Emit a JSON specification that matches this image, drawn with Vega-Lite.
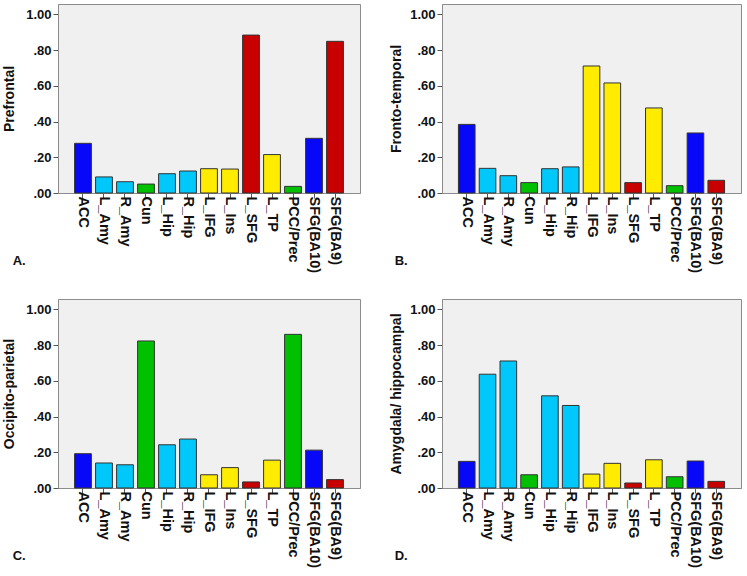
{
  "$schema": "https://vega.github.io/schema/vega-lite/v6.json",
  "background": "white",
  "padding": {"left": 2, "top": 3, "right": 5, "bottom": 0},
  "config": {
    "font": "Liberation Sans",
    "view": {"fill": "#f0f0f0", "stroke": "#8c8c8c", "strokeWidth": 1},
    "axis": {
      "grid": false,
      "domainColor": "#8c8c8c",
      "tickColor": "#555555",
      "tickSize": 5,
      "labelFont": "Liberation Sans",
      "labelFontWeight": "bold",
      "labelColor": "#111111",
      "titleFont": "Liberation Sans",
      "titleFontWeight": "bold",
      "titleFontSize": 14,
      "titleColor": "#111111"
    },
    "axisX": {"labelFontSize": 14.5, "labelPadding": -2},
    "title": {"font": "Liberation Sans", "fontSize": 13, "fontWeight": "bold", "color": "#111111"}
  },
  "spacing": 24,
  "data": {
    "values": [
      {"network": "Prefrontal", "region": "ACC", "group": "anterior", "value": 0.278},
      {"network": "Prefrontal", "region": "L_Amy", "group": "limbic", "value": 0.090},
      {"network": "Prefrontal", "region": "R_Amy", "group": "limbic", "value": 0.063},
      {"network": "Prefrontal", "region": "Cun", "group": "posterior", "value": 0.050},
      {"network": "Prefrontal", "region": "L_Hip", "group": "limbic", "value": 0.108},
      {"network": "Prefrontal", "region": "R_Hip", "group": "limbic", "value": 0.123},
      {"network": "Prefrontal", "region": "L_IFG", "group": "temporal", "value": 0.136},
      {"network": "Prefrontal", "region": "L_Ins", "group": "temporal", "value": 0.134},
      {"network": "Prefrontal", "region": "L_SFG", "group": "frontal", "value": 0.884},
      {"network": "Prefrontal", "region": "L_TP", "group": "temporal", "value": 0.215},
      {"network": "Prefrontal", "region": "PCC/Prec", "group": "posterior", "value": 0.037},
      {"network": "Prefrontal", "region": "SFG(BA10)", "group": "anterior", "value": 0.306},
      {"network": "Prefrontal", "region": "SFG(BA9)", "group": "frontal", "value": 0.849},

      {"network": "Fronto-temporal", "region": "ACC", "group": "anterior", "value": 0.384},
      {"network": "Fronto-temporal", "region": "L_Amy", "group": "limbic", "value": 0.138},
      {"network": "Fronto-temporal", "region": "R_Amy", "group": "limbic", "value": 0.097},
      {"network": "Fronto-temporal", "region": "Cun", "group": "posterior", "value": 0.058},
      {"network": "Fronto-temporal", "region": "L_Hip", "group": "limbic", "value": 0.136},
      {"network": "Fronto-temporal", "region": "R_Hip", "group": "limbic", "value": 0.146},
      {"network": "Fronto-temporal", "region": "L_IFG", "group": "temporal", "value": 0.711},
      {"network": "Fronto-temporal", "region": "L_Ins", "group": "temporal", "value": 0.616},
      {"network": "Fronto-temporal", "region": "L_SFG", "group": "frontal", "value": 0.058},
      {"network": "Fronto-temporal", "region": "L_TP", "group": "temporal", "value": 0.476},
      {"network": "Fronto-temporal", "region": "PCC/Prec", "group": "posterior", "value": 0.041},
      {"network": "Fronto-temporal", "region": "SFG(BA10)", "group": "anterior", "value": 0.336},
      {"network": "Fronto-temporal", "region": "SFG(BA9)", "group": "frontal", "value": 0.071},

      {"network": "Occipito-parietal", "region": "ACC", "group": "anterior", "value": 0.192},
      {"network": "Occipito-parietal", "region": "L_Amy", "group": "limbic", "value": 0.140},
      {"network": "Occipito-parietal", "region": "R_Amy", "group": "limbic", "value": 0.130},
      {"network": "Occipito-parietal", "region": "Cun", "group": "posterior", "value": 0.823},
      {"network": "Occipito-parietal", "region": "L_Hip", "group": "limbic", "value": 0.242},
      {"network": "Occipito-parietal", "region": "R_Hip", "group": "limbic", "value": 0.274},
      {"network": "Occipito-parietal", "region": "L_IFG", "group": "temporal", "value": 0.074},
      {"network": "Occipito-parietal", "region": "L_Ins", "group": "temporal", "value": 0.114},
      {"network": "Occipito-parietal", "region": "L_SFG", "group": "frontal", "value": 0.034},
      {"network": "Occipito-parietal", "region": "L_TP", "group": "temporal", "value": 0.156},
      {"network": "Occipito-parietal", "region": "PCC/Prec", "group": "posterior", "value": 0.860},
      {"network": "Occipito-parietal", "region": "SFG(BA10)", "group": "anterior", "value": 0.212},
      {"network": "Occipito-parietal", "region": "SFG(BA9)", "group": "frontal", "value": 0.047},

      {"network": "Amygdala/ hippocampal", "region": "ACC", "group": "anterior", "value": 0.149},
      {"network": "Amygdala/ hippocampal", "region": "L_Amy", "group": "limbic", "value": 0.637},
      {"network": "Amygdala/ hippocampal", "region": "R_Amy", "group": "limbic", "value": 0.711},
      {"network": "Amygdala/ hippocampal", "region": "Cun", "group": "posterior", "value": 0.074},
      {"network": "Amygdala/ hippocampal", "region": "L_Hip", "group": "limbic", "value": 0.516},
      {"network": "Amygdala/ hippocampal", "region": "R_Hip", "group": "limbic", "value": 0.462},
      {"network": "Amygdala/ hippocampal", "region": "L_IFG", "group": "temporal", "value": 0.078},
      {"network": "Amygdala/ hippocampal", "region": "L_Ins", "group": "temporal", "value": 0.138},
      {"network": "Amygdala/ hippocampal", "region": "L_SFG", "group": "frontal", "value": 0.028},
      {"network": "Amygdala/ hippocampal", "region": "L_TP", "group": "temporal", "value": 0.158},
      {"network": "Amygdala/ hippocampal", "region": "PCC/Prec", "group": "posterior", "value": 0.063},
      {"network": "Amygdala/ hippocampal", "region": "SFG(BA10)", "group": "anterior", "value": 0.151},
      {"network": "Amygdala/ hippocampal", "region": "SFG(BA9)", "group": "frontal", "value": 0.037}
    ]
  },
  "vconcat": [
    {
      "spacing": 28,
      "hconcat": [
        {
          "width": 302, "height": 189,
          "title": {"text": "A.", "orient": "bottom", "anchor": "start", "frame": "bounds", "dx": 10, "dy": -22},
          "transform": [{"filter": "datum.network === 'Prefrontal'"}],
          "mark": {"type": "bar", "stroke": "#333333", "strokeWidth": 1},
          "encoding": {
            "x": {"field": "region", "type": "nominal", "sort": null,
                  "scale": {"paddingInner": 0.2, "paddingOuter": 0.79},
                  "axis": {"title": null, "labelAngle": 90}},
            "y": {"field": "value", "type": "quantitative",
                  "scale": {"domain": [0, 1.058], "nice": false},
                  "axis": {"title": "Prefrontal", "values": [0, 0.2, 0.4, 0.6, 0.8, 1.0], "labelFontSize": 13, "labelPadding": 2, "titlePadding": 9,
                           "labelExpr": "datum.value < 1 ? substring(format(datum.value, '.2f'), 1) : format(datum.value, '.2f')"}},
            "color": {"field": "group", "type": "nominal", "legend": null,
                      "scale": {"domain": ["anterior", "limbic", "posterior", "temporal", "frontal"],
                                "range": ["#0808f8", "#00c8fa", "#00c000", "#ffec00", "#c80000"]}}
          }
        },
        {
          "width": 299, "height": 189,
          "title": {"text": "B.", "orient": "bottom", "anchor": "start", "frame": "bounds", "dx": 5, "dy": -22},
          "transform": [{"filter": "datum.network === 'Fronto-temporal'"}],
          "mark": {"type": "bar", "stroke": "#333333", "strokeWidth": 1},
          "encoding": {
            "x": {"field": "region", "type": "nominal", "sort": null,
                  "scale": {"paddingInner": 0.2, "paddingOuter": 0.79},
                  "axis": {"title": null, "labelAngle": 90}},
            "y": {"field": "value", "type": "quantitative",
                  "scale": {"domain": [0, 1.058], "nice": false},
                  "axis": {"title": "Fronto-temporal", "values": [0, 0.2, 0.4, 0.6, 0.8, 1.0], "labelFontSize": 13, "labelPadding": 2, "titlePadding": 6,
                           "labelExpr": "datum.value < 1 ? substring(format(datum.value, '.2f'), 1) : format(datum.value, '.2f')"}},
            "color": {"field": "group", "type": "nominal", "legend": null,
                      "scale": {"domain": ["anterior", "limbic", "posterior", "temporal", "frontal"],
                                "range": ["#0808f8", "#00c8fa", "#00c000", "#ffec00", "#c80000"]}}
          }
        }
      ]
    },
    {
      "spacing": 28,
      "hconcat": [
        {
          "width": 302, "height": 189,
          "title": {"text": "C.", "orient": "bottom", "anchor": "start", "frame": "bounds", "dx": 10, "dy": -22},
          "transform": [{"filter": "datum.network === 'Occipito-parietal'"}],
          "mark": {"type": "bar", "stroke": "#333333", "strokeWidth": 1},
          "encoding": {
            "x": {"field": "region", "type": "nominal", "sort": null,
                  "scale": {"paddingInner": 0.2, "paddingOuter": 0.79},
                  "axis": {"title": null, "labelAngle": 90}},
            "y": {"field": "value", "type": "quantitative",
                  "scale": {"domain": [0, 1.058], "nice": false},
                  "axis": {"title": "Occipito-parietal", "values": [0, 0.2, 0.4, 0.6, 0.8, 1.0], "labelFontSize": 13, "labelPadding": 2, "titlePadding": 9,
                           "labelExpr": "datum.value < 1 ? substring(format(datum.value, '.2f'), 1) : format(datum.value, '.2f')"}},
            "color": {"field": "group", "type": "nominal", "legend": null,
                      "scale": {"domain": ["anterior", "limbic", "posterior", "temporal", "frontal"],
                                "range": ["#0808f8", "#00c8fa", "#00c000", "#ffec00", "#c80000"]}}
          }
        },
        {
          "width": 299, "height": 189,
          "title": {"text": "D.", "orient": "bottom", "anchor": "start", "frame": "bounds", "dx": 5, "dy": -22},
          "transform": [{"filter": "datum.network === 'Amygdala/ hippocampal'"}],
          "mark": {"type": "bar", "stroke": "#333333", "strokeWidth": 1},
          "encoding": {
            "x": {"field": "region", "type": "nominal", "sort": null,
                  "scale": {"paddingInner": 0.2, "paddingOuter": 0.79},
                  "axis": {"title": null, "labelAngle": 90}},
            "y": {"field": "value", "type": "quantitative",
                  "scale": {"domain": [0, 1.058], "nice": false},
                  "axis": {"title": "Amygdala/ hippocampal", "values": [0, 0.2, 0.4, 0.6, 0.8, 1.0], "labelFontSize": 13, "labelPadding": 2, "titlePadding": 6,
                           "labelExpr": "datum.value < 1 ? substring(format(datum.value, '.2f'), 1) : format(datum.value, '.2f')"}},
            "color": {"field": "group", "type": "nominal", "legend": null,
                      "scale": {"domain": ["anterior", "limbic", "posterior", "temporal", "frontal"],
                                "range": ["#0808f8", "#00c8fa", "#00c000", "#ffec00", "#c80000"]}}
          }
        }
      ]
    }
  ]
}
